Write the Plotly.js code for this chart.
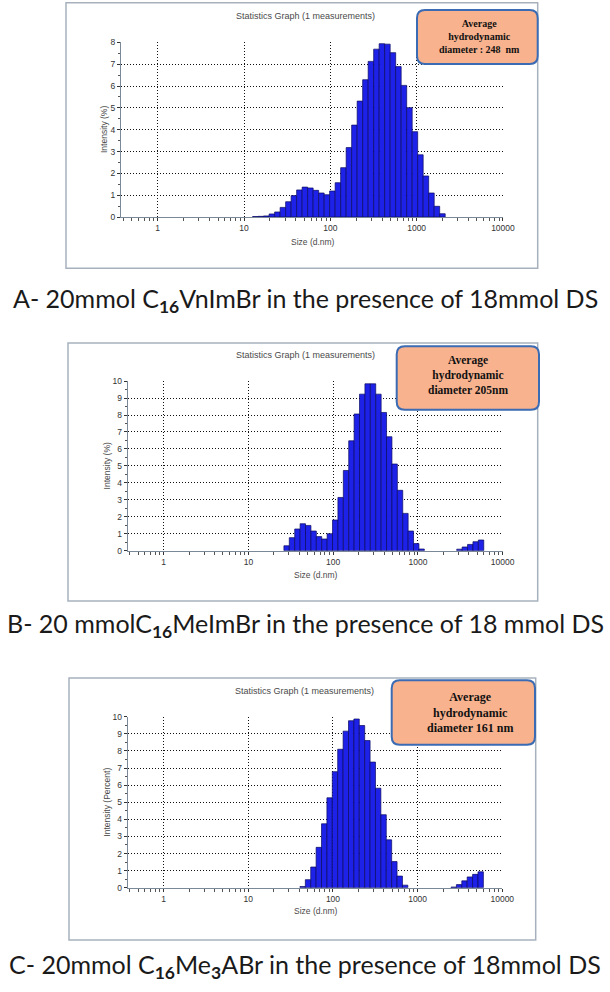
<!DOCTYPE html>
<html>
<head>
<meta charset="utf-8">
<script src="https://cdn.plot.ly/plotly-3.0.1.min.js"></script>
<style>
html,body{margin:0;padding:0;background:#ffffff;}
#chart{width:610px;height:992px;}
</style>
</head>
<body>
<div id="chart"></div>
<script>
// ---- Data (sizes in d.nm, intensity in %) ----
const sizesA = [13.54, 15.69, 18.17, 21.04, 24.36, 28.21, 32.67, 37.84, 43.82, 50.75, 58.77, 68.06, 78.82, 91.28, 105.7, 122.4, 141.8, 164.2, 190.1, 220.2, 255.0, 295.3, 342.0, 396.1, 458.7, 531.2, 615.1, 712.4, 825.0, 955.4, 1106, 1281, 1484, 1718, 1990];
const intensityA = [0.02, 0.03, 0.05, 0.14, 0.23, 0.44, 0.70, 0.98, 1.24, 1.37, 1.33, 1.22, 1.10, 1.02, 1.19, 1.57, 2.26, 3.18, 4.21, 5.31, 6.29, 7.13, 7.69, 7.94, 7.92, 7.53, 6.89, 6.03, 5.01, 3.91, 2.85, 1.88, 1.10, 0.49, 0.15];

const sizesB = [28.21, 32.67, 37.84, 43.82, 50.75, 58.77, 68.06, 78.82, 91.28, 105.7, 122.4, 141.8, 164.2, 190.1, 220.2, 255.0, 295.3, 342.0, 396.1, 458.7, 531.2, 615.1, 712.4, 825.0, 955.4, 1106, 3091, 3580, 4145, 4801, 5560];
const intensityB = [0.29, 0.77, 1.28, 1.59, 1.49, 1.16, 0.83, 0.69, 1.00, 1.81, 3.14, 4.73, 6.48, 8.06, 9.23, 9.84, 9.84, 9.23, 8.15, 6.72, 5.11, 3.56, 2.20, 1.16, 0.42, 0.10, 0.09, 0.22, 0.37, 0.53, 0.63];

const sizesC = [43.82, 50.75, 58.77, 68.06, 78.82, 91.28, 105.7, 122.4, 141.8, 164.2, 190.1, 220.2, 255.0, 295.3, 342.0, 396.1, 458.7, 531.2, 615.1, 712.4, 2669, 3091, 3580, 4145, 4801, 5560];
const intensityC = [0.07, 0.47, 1.21, 2.36, 3.74, 5.26, 6.79, 8.10, 9.16, 9.77, 9.87, 9.49, 8.61, 7.35, 5.82, 4.27, 2.80, 1.53, 0.68, 0.15, 0.04, 0.18, 0.40, 0.63, 0.78, 0.93];

const yTitles = ["Intensity (%)", "Intensity (%)", "Intensity (Percent)"];
const xTitle = "Size (d.nm)";
const graphTitle = "Statistics Graph (1 measurements)";
const boxTexts = [
  "Average<br>hydrodynamic<br>diameter : 248  nm",
  "Average<br>hydrodynamic<br>diameter 205nm",
  "Average<br>hydrodynamic<br>diameter 161 nm"
];
const captions = [
  "A- 20mmol C<sub><b>16</b></sub>VnImBr in the presence of 18mmol DS",
  "B- 20 mmolC<sub><b>16</b></sub>MeImBr in the presence of 18 mmol DS",
  "C- 20mmol C<sub><b>16</b></sub>Me<sub><b>3</b></sub>ABr in the presence of 18mmol DS"
];
const yMax = [8, 10, 10];

// ---- Layout geometry (pixels) ----
const W = 610, H = 992;
const px = x => x / W;
const py = y => 1 - y / H;

const panels = [
  {plot:[121, 503, 42.3, 217], frame:[66, 537.7, 2.7, 268.3], box:[417, 537.7, 10, 64], boxText:[479, 36.5, 10],
   title:[305, 15.7], xt:[313, 241.7], yt:[104, 130], cap:[305, 300]},
  {plot:[127.7, 502.7, 381, 550.7], frame:[68, 537.7, 343, 601], box:[396.7, 539, 346.3, 409.7], boxText:[468, 375, 11.5],
   title:[305, 355], xt:[315.7, 575], yt:[106.7, 465.7], cap:[305, 625]},
  {plot:[127.7, 502.3, 716.7, 887.7], frame:[69, 535.7, 678, 940], box:[391.7, 535, 680.3, 744.7], boxText:[470, 712, 12],
   title:[304, 690.7], xt:[316, 911], yt:[106.7, 802], cap:[305, 966]}
];

const sizes = [sizesA, sizesB, sizesC];
const vals = [intensityA, intensityB, intensityC];

// Malvern size classes: ratio between adjacent classes ~1.1582 (half step in log space)
const half = 0.03188;
const up = Math.pow(10, half), down = Math.pow(10, -half);

const tickFont = {family: "Liberation Sans, Arial, sans-serif", size: 8.5, color: "#333333"};
const labelFont = {family: "Liberation Sans, Arial, sans-serif", size: 8.5, color: "#4a4a4a"};

const data = [];
const layout = {
  width: W, height: H,
  margin: {l: 0, r: 0, t: 0, b: 0},
  paper_bgcolor: "#ffffff", plot_bgcolor: "#ffffff",
  showlegend: false, bargap: 0, barmode: "overlay",
  shapes: [], annotations: []
};

function roundedRect(x0, x1, y0, y1, r) {
  const P = (x, y) => px(x) + "," + py(y);
  return "M" + P(x0 + r, y0) + " L" + P(x1 - r, y0) + " Q" + P(x1, y0) + " " + P(x1, y0 + r) +
         " L" + P(x1, y1 - r) + " Q" + P(x1, y1) + " " + P(x1 - r, y1) +
         " L" + P(x0 + r, y1) + " Q" + P(x0, y1) + " " + P(x0, y1 - r) +
         " L" + P(x0, y0 + r) + " Q" + P(x0, y0) + " " + P(x0 + r, y0) + " Z";
}

panels.forEach((p, i) => {
  const sfx = i === 0 ? "" : String(i + 1);
  const xa = "x" + sfx, ya = "y" + sfx;

  data.push({
    type: "bar",
    x: sizes[i], y: vals[i],
    xaxis: xa, yaxis: ya,
    width: sizes[i].map(s => s * (up - down)),
    offset: sizes[i].map(s => -s * (1 - down)),
    marker: {color: "#1e22e8", line: {color: "#0a0a60", width: 0.7}},
    hovertemplate: "%{x} nm: %{y}%<extra></extra>"
  });

  layout["xaxis" + sfx] = {
    type: "log", range: [-0.425, 4.0005], anchor: ya,
    domain: [px(p.plot[0]), px(p.plot[1])],
    tick0: 0, dtick: 1, tickformat: "d",
    ticks: "outside", ticklen: 3, tickwidth: 1, tickcolor: "#333333",
    minor: {ticks: "outside", ticklen: 3, dtick: "D1", tickwidth: 1, tickcolor: "#555555", showgrid: false},
    showgrid: true, gridcolor: "#111111", gridwidth: 1, griddash: "1px,2px",
    showline: true, linecolor: "#7b8897", linewidth: 1,
    zeroline: false, tickfont: tickFont, fixedrange: true
  };
  layout["yaxis" + sfx] = {
    range: [0, yMax[i] * 1.0005], anchor: xa,
    domain: [py(p.plot[3]), py(p.plot[2])],
    tick0: 0, dtick: 1,
    ticks: "outside", ticklen: 3, tickwidth: 1, tickcolor: "#333333",
    minor: {ticks: "outside", ticklen: 2, dtick: 0.5, tickwidth: 1, tickcolor: "#555555", showgrid: false},
    showgrid: true, gridcolor: "#111111", gridwidth: 1, griddash: "1px,2px",
    showline: true, linecolor: "#7b8897", linewidth: 1,
    zeroline: false, tickfont: tickFont, fixedrange: true
  };

  layout.shapes.push({
    type: "rect", xref: "paper", yref: "paper",
    x0: px(p.frame[0]), x1: px(p.frame[1]), y0: py(p.frame[3]), y1: py(p.frame[2]),
    line: {color: "#a7b1bd", width: 1.5}, fillcolor: "rgba(0,0,0,0)", layer: "below"
  });
  layout.shapes.push({
    type: "path", xref: "paper", yref: "paper",
    path: roundedRect(p.box[0], p.box[1], p.box[2], p.box[3], 8),
    line: {color: "#3a6bb3", width: 2}, fillcolor: "#f8b28e", layer: "above"
  });

  layout.annotations.push(
    {text: graphTitle, xref: "paper", yref: "paper", x: px(p.title[0]), y: py(p.title[1]),
     xanchor: "center", yanchor: "middle", showarrow: false,
     font: {family: "Liberation Sans, Arial, sans-serif", size: 9, color: "#4a4a4a"}},
    {text: xTitle, xref: "paper", yref: "paper", x: px(p.xt[0]), y: py(p.xt[1]),
     xanchor: "center", yanchor: "middle", showarrow: false, font: labelFont},
    {text: yTitles[i], xref: "paper", yref: "paper", x: px(p.yt[0]), y: py(p.yt[1]),
     xanchor: "center", yanchor: "middle", showarrow: false, textangle: -90, font: labelFont},
    {text: "<b>" + boxTexts[i] + "</b>", xref: "paper", yref: "paper", x: px(p.boxText[0]), y: py(p.boxText[1]),
     xanchor: "center", yanchor: "middle", showarrow: false, align: "center",
     font: {family: "Liberation Serif, Times New Roman, serif", size: p.boxText[2], color: "#111111"}},
    {text: captions[i], xref: "paper", yref: "paper", x: px(p.cap[0]), y: py(p.cap[1]),
     xanchor: "center", yanchor: "middle", showarrow: false,
     font: {family: "Lato, Open Sans, sans-serif", size: 25, color: "#1a1a1a"}}
  );
});

Plotly.newPlot("chart", data, layout, {staticPlot: true, displayModeBar: false});
</script>
</body>
</html>
